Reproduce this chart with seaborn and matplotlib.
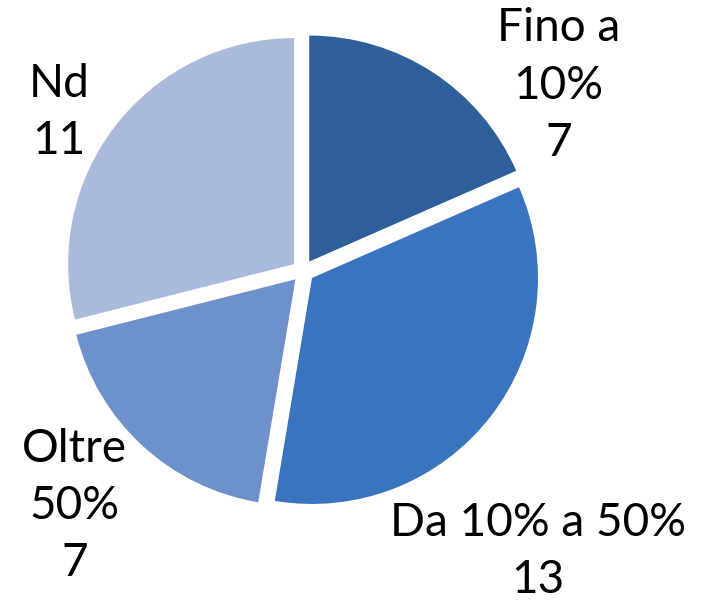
import matplotlib
matplotlib.use("Agg")
import matplotlib.pyplot as plt
import seaborn as sns

categories = ["Fino a\n10%", "Da 10% a 50%", "Oltre\n50%", "Nd"]
values = [7, 13, 7, 11]
colors = ["#2F5F9A", "#3A74BE", "#6C91CB", "#AABADB"]

sns.set_theme(style="white")
plt.rcParams["font.family"] = ["Lato", "DejaVu Sans"]

fig = plt.figure(figsize=(7.04, 6.06), dpi=100)
ax = fig.add_axes([0, 0, 1, 1])

labels = [f"{c}\n{v}" for c, v in zip(categories, values)]
wedges, texts = ax.pie(values, labels=labels, colors=colors, startangle=90,
                       counterclock=False, explode=[0.05] * 4,
                       wedgeprops=dict(linewidth=0),
                       textprops=dict(fontsize=33, color="black",
                                      linespacing=1.45))

# label placement as in the original
label_pos = [(1.13, 0.82), (1.04, -1.24), (-1.01, -1.04), (-1.08, 0.70)]
for t, p in zip(texts, label_pos):
    t.set_position(p)
    t.set_horizontalalignment("center")
    t.set_verticalalignment("center")
    t.set_multialignment("center")

ax.set_xlim(-1.341, 1.774)
ax.set_ylim(-1.482, 1.199)
ax.set_aspect("equal")
ax.axis("off")

fig.savefig("out.png", dpi=100)
